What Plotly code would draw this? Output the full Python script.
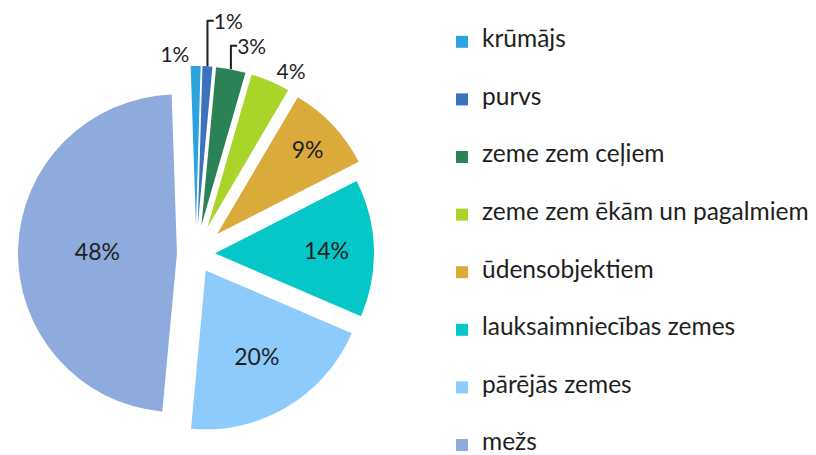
import plotly.graph_objects as go

categories = ["krūmājs", "purvs", "zeme zem ceļiem", "zeme zem ēkām un pagalmiem",
              "ūdensobjektiem", "lauksaimniecības zemes", "pārējās zemes", "mežs"]
values = [1, 1, 3, 4, 9, 14, 20, 48]
colors = ["#2AA3DE", "#3A72BE", "#2C8257", "#A9D52A",
          "#DAAA3A", "#05C7C7", "#8CCBFC", "#8FAADC"]
pulls = [0.183, 0.183, 0.183, 0.183, 0.183, 0.12, 0.12, 0.12]
text_positions = ["outside"] * 4 + ["inside"] * 4

FONT = "Lato"
legend_labels = ["\u00a0<br><span style='font-size:24.5px'>%s</span><br>\u00a0" % c for c in categories]

W, H = 816, 455
LX = 434          # legend left edge (px); legend reserves the area to its right
PLOT_W = LX
BOX = 376         # pie box size (px)
fig = go.Figure(go.Pie(
    labels=legend_labels,
    values=values,
    sort=False,
    direction="clockwise",
    rotation=-1.9,
    pull=pulls,
    automargin=False,
    marker=dict(colors=colors, line=dict(width=0)),
    texttemplate="%{value}%",
    textposition=text_positions,
    insidetextorientation="horizontal",
    textfont=dict(family=FONT, size=23, color="#1f1f1f"),
    outsidetextfont=dict(family=FONT, size=21, color="#1f1f1f"),
    hoverinfo="skip",
    domain=dict(x=[0, BOX / PLOT_W], y=[21 / H, (21 + BOX) / H]),
))

fig.update_layout(
    width=W, height=H,
    margin=dict(l=0, r=0, t=0, b=0),
    paper_bgcolor="white",
    plot_bgcolor="white",
    font=dict(family=FONT, size=14, color="#1f1f1f"),
    legend=dict(
        xref="container", yref="container",
        x=LX / W, xanchor="left",
        y=1.0, yanchor="top",
        font=dict(family=FONT, size=14, color="#1f1f1f"),
        valign="middle",
        maxheight=900,
        bgcolor="rgba(0,0,0,0)",
    ),
    showlegend=True,
)

fig.write_html("out.html")
